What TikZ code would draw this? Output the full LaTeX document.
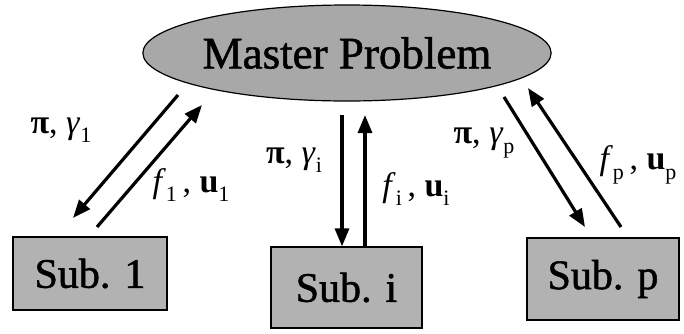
\documentclass[tikz,border=0pt]{standalone}
\usepackage{fontspec}
\setmainfont{Liberation Serif}
\newfontfamily\heavyserif[FakeBold=1.2]{Liberation Serif}
\usetikzlibrary{arrows.meta,shapes.geometric}
\definecolor{fillgray}{RGB}{168,168,168}
\definecolor{boxgray}{RGB}{178,178,178}
\newcommand{\sbs}[1]{\raisebox{-0.28em}{\fontsize{22}{24}\selectfont #1}}
\tikzset{
  master/.style={ellipse,draw=black,line width=1.2pt,fill=fillgray,minimum width=369pt,minimum height=96pt,inner sep=0pt,font=\heavyserif\fontsize{45}{48}\selectfont},
  subbox/.style={rectangle,draw=black,line width=1.2pt,fill=boxgray,inner sep=0pt,font=\heavyserif\fontsize{42}{44}\selectfont},
  arr/.style={line width=3.2pt,-{Triangle[length=18pt,width=14pt]}},
  lbl/.style={inner sep=0pt,font=\fontsize{34}{36}\selectfont}
}
\begin{document}
\begin{tikzpicture}[x=1pt,y=-1pt]
\useasboundingbox (0,0) rectangle (684,333);
\node[master] (mp) at (347,53) {Master Problem};
\node[subbox,minimum width=154pt,minimum height=73pt] (s1) at (90,273.5) {Sub. 1};
\node[subbox,minimum width=151pt,minimum height=81pt] (si) at (346.5,287.5) {Sub. i};
\node[subbox,minimum width=152pt,minimum height=82pt] (sp) at (603,279) {Sub. p};
% arrow end points
\coordinate (a1s) at (178,95);
\coordinate (a1e) at (73,218);
\coordinate (b1s) at (97,227);
\coordinate (b1e) at (202,105);
\coordinate (ais) at (342,115);
\coordinate (bie) at (365,115);
\coordinate (aps) at (504,97);
\coordinate (ape) at (585,227);
\coordinate (bps) at (621,227);
\coordinate (bpe) at (528,88);
\draw[arr] (a1s) -- (a1e);
\draw[arr] (b1s) -- (b1e);
\draw[arr] (ais) -- (ais |- si.north);
\draw[arr] (bie |- si.north) -- (bie);
\draw[arr] (aps) -- (ape);
\draw[arr] (bps) -- (bpe);
% labels
\node[lbl] (l1a) at (61,130) {\textbf{π}, \textit{γ}\sbs{1}};
\node[lbl] (l1b) at (191,185) {\textit{f}\sbs{1}\,, \textbf{u}\sbs{1}};
\node[lbl] (lia) at (294,160) {\textbf{π}, \textit{γ}\sbs{i}};
\node[lbl] (lib) at (416,189) {\textit{f}\sbs{i}\,, \textbf{u}\sbs{i}};
\node[lbl] (lpa) at (484,143) {\textbf{π}, \textit{γ}\sbs{p}};
\node[lbl] (lpb) at (638,165) {\textit{f}\sbs{p}\,, \textbf{u}\sbs{p}};
\end{tikzpicture}
\end{document}
